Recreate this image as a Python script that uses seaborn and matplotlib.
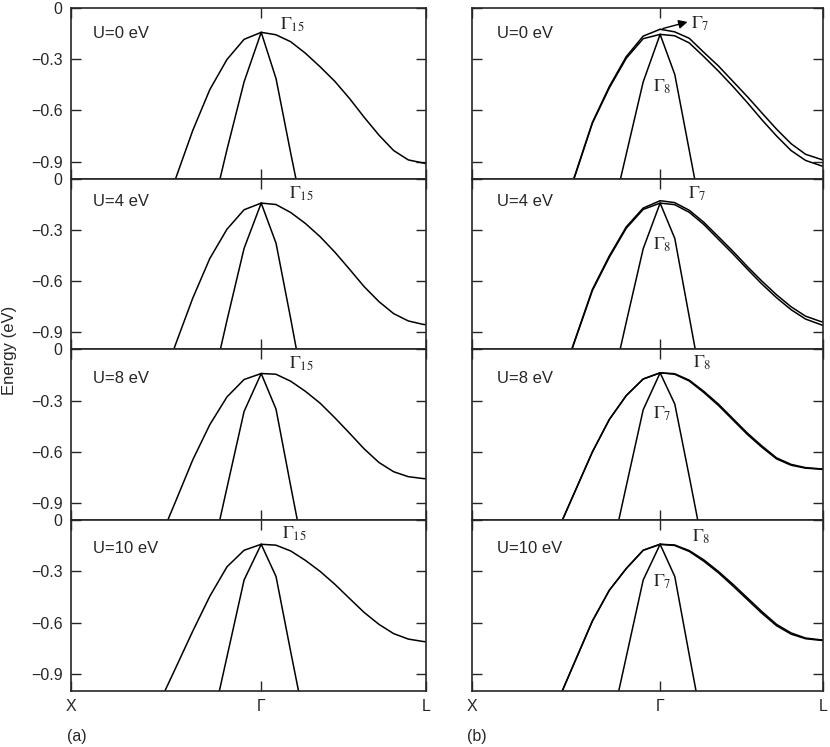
import matplotlib
matplotlib.use('Agg')
import matplotlib.pyplot as plt
from matplotlib.ticker import FuncFormatter
import seaborn as sns

# Valence band tops near Gamma, (a) without and (b) with spin-orbit coupling
U_VALUES = [0, 4, 8, 10]

# k-path: X = -1, Gamma = 0, L = sqrt(3)/2
K_TICKS = [-1.0, 0.0, 0.866]
K_TICK_LABELS = ['X', 'Γ', 'L']

K_X = [-0.54, -0.45, -0.36, -0.27, -0.18, -0.09, 0.0]
K_L = [0.0, 0.077, 0.155, 0.232, 0.31, 0.387, 0.464, 0.541, 0.619, 0.696, 0.773, 0.85, 0.866]
K_LIGHT = [-0.27, -0.18, -0.09, 0.0, 0.078, 0.155, 0.232]

# (a) heavy band, Gamma -> X part and Gamma -> L part, one row per U
A_HEAVY_X = [
    [-1.28, -1.00, -0.718, -0.478, -0.302, -0.184, -0.143],
    [-1.25, -0.97, -0.700, -0.467, -0.296, -0.182, -0.143],
    [-1.13, -0.89, -0.647, -0.440, -0.278, -0.176, -0.141],
    [-1.08, -0.866, -0.650, -0.445, -0.273, -0.176, -0.141],
]
A_HEAVY_L = [
    [-0.143, -0.157, -0.198, -0.265, -0.345, -0.43, -0.53, -0.64, -0.745, -0.835, -0.89, -0.908, -0.911],
    [-0.143, -0.151, -0.198, -0.262, -0.34, -0.43, -0.53, -0.632, -0.72, -0.79, -0.833, -0.853, -0.855],
    [-0.141, -0.145, -0.186, -0.245, -0.315, -0.40, -0.49, -0.582, -0.662, -0.716, -0.745, -0.756, -0.757],
    [-0.141, -0.146, -0.18, -0.235, -0.30, -0.375, -0.458, -0.54, -0.61, -0.664, -0.696, -0.71, -0.712],
]
A_LIGHT = [
    [-1.25, -0.83, -0.433, -0.143, -0.414, -0.85, -1.27],
    [-1.27, -0.83, -0.408, -0.143, -0.378, -0.82, -1.28],
    [-1.26, -0.81, -0.363, -0.141, -0.35, -0.80, -1.24],
    [-1.25, -0.80, -0.35, -0.141, -0.33, -0.77, -1.20],
]

# (b) two nearly degenerate heavy bands (upper / lower) and the light band
B_UPPER_X = [
    [-1.25, -0.97, -0.67, -0.46, -0.285, -0.165, -0.125],
    [-1.22, -0.935, -0.648, -0.452, -0.282, -0.172, -0.129],
    [-1.05, -0.825, -0.60, -0.41, -0.27, -0.173, -0.137],
    [-1.05, -0.82, -0.59, -0.41, -0.283, -0.176, -0.141],
]
B_LOWER_X = [
    [-1.26, -0.975, -0.675, -0.468, -0.295, -0.18, -0.155],
    [-1.225, -0.94, -0.655, -0.46, -0.29, -0.18, -0.143],
    [-1.05, -0.825, -0.60, -0.41, -0.27, -0.173, -0.137],
    [-1.05, -0.82, -0.59, -0.41, -0.283, -0.176, -0.141],
]
B_UPPER_L = [
    [-0.125, -0.14, -0.178, -0.26, -0.34, -0.43, -0.52, -0.615, -0.71, -0.795, -0.857, -0.885, -0.89],
    [-0.129, -0.14, -0.185, -0.255, -0.34, -0.425, -0.515, -0.60, -0.68, -0.75, -0.805, -0.835, -0.84],
    [-0.137, -0.142, -0.18, -0.245, -0.32, -0.405, -0.49, -0.565, -0.635, -0.673, -0.692, -0.699, -0.70],
    [-0.141, -0.145, -0.178, -0.232, -0.30, -0.375, -0.455, -0.535, -0.61, -0.66, -0.69, -0.70, -0.70],
]
B_LOWER_L = [
    [-0.155, -0.163, -0.205, -0.285, -0.37, -0.46, -0.555, -0.655, -0.75, -0.835, -0.893, -0.922, -0.928],
    [-0.143, -0.152, -0.197, -0.268, -0.355, -0.44, -0.53, -0.617, -0.697, -0.767, -0.822, -0.853, -0.86],
    [-0.137, -0.145, -0.185, -0.252, -0.328, -0.413, -0.498, -0.573, -0.641, -0.678, -0.695, -0.701, -0.702],
    [-0.141, -0.148, -0.183, -0.24, -0.308, -0.385, -0.465, -0.545, -0.618, -0.667, -0.694, -0.703, -0.704],
]
B_LIGHT = [
    [-1.28, -0.856, -0.433, -0.155, -0.39, -0.835, -1.28],
    [-1.28, -0.84, -0.41, -0.143, -0.35, -0.81, -1.27],
    [-1.25, -0.80, -0.353, -0.137, -0.32, -0.745, -1.18],
    [-1.25, -0.80, -0.35, -0.141, -0.33, -0.79, -1.24],
]

A_TOP_LABELS = [r'$\Gamma_{15}$'] * 4
B_TOP_LABELS = [r'$\Gamma_{7}$', r'$\Gamma_{7}$', r'$\Gamma_{8}$', r'$\Gamma_{8}$']
B_INNER_LABELS = [r'$\Gamma_{8}$', r'$\Gamma_{8}$', r'$\Gamma_{7}$', r'$\Gamma_{7}$']

# label placement (data coords)
a_top_pos = [(0.10, -0.10), (0.145, -0.09), (0.145, -0.085), (0.11, -0.08)]
b_top_pos = [(0.165, -0.094), (0.15, -0.09), (0.175, -0.08), (0.17, -0.10)]
b_inner_pos = [(-0.04, -0.46), (-0.04, -0.39), (-0.04, -0.376), (-0.04, -0.36)]
u_label_y = [0.852, 0.866, 0.83, 0.836]

sns.set_style('ticks')
plt.rcParams['font.family'] = ['Liberation Sans', 'DejaVu Sans']
plt.rcParams['mathtext.fontset'] = 'stix'


def draw_band(ax, k, e, lw=1.1):
    sns.lineplot(x=k, y=e, ax=ax, color='black', lw=lw, sort=False,
                 estimator=None, legend=False)


def style_axes(ax, show_y, show_x):
    ax.set_xlim(K_TICKS[0], K_TICKS[-1])
    ax.set_ylim(-1.0, 0.0)
    ax.set_xticks(K_TICKS)
    ax.set_xticklabels(K_TICK_LABELS)
    ax.set_yticks([0.0, -0.3, -0.6, -0.9])
    ax.yaxis.set_major_formatter(FuncFormatter(
        lambda v, _: '0' if abs(v) < 1e-9 else f'{v:.1f}'.replace('-', '\u2212')))
    ax.tick_params(direction='in', length=7, width=1, top=True, right=True,
                   labelsize=11.5, pad=6, labelleft=show_y, labelbottom=show_x)
    for s in ax.spines.values():
        s.set_linewidth(1.2)
    ax.set_xlabel('')
    ax.set_ylabel('')


fig = plt.figure(figsize=(8.3, 7.47), dpi=100)
col_left = [0.0855, 0.5687]
col_width = [0.4277, 0.4229]
panel_h = 0.2286
bottom0 = 0.075

for i, u in enumerate(U_VALUES):
    bottom = bottom0 + (3 - i) * panel_h
    last = i == 3

    # (a) no spin-orbit
    ax = fig.add_axes([col_left[0], bottom, col_width[0], panel_h])
    draw_band(ax, K_X, A_HEAVY_X[i])
    draw_band(ax, K_L, A_HEAVY_L[i])
    draw_band(ax, K_LIGHT, A_LIGHT[i])
    style_axes(ax, True, last)
    ax.text(0.062, u_label_y[i], f'U={u} eV', transform=ax.transAxes,
            fontsize=12, va='center', ha='left')
    ax.text(*a_top_pos[i], A_TOP_LABELS[i], fontsize=13, va='center', ha='left')

    # (b) with spin-orbit
    ax = fig.add_axes([col_left[1], bottom, col_width[1], panel_h])
    draw_band(ax, K_X, B_UPPER_X[i])
    draw_band(ax, K_X, B_LOWER_X[i])
    draw_band(ax, K_L, B_UPPER_L[i])
    draw_band(ax, K_L, B_LOWER_L[i])
    draw_band(ax, K_LIGHT, B_LIGHT[i])
    style_axes(ax, False, last)
    ax.text(0.07, u_label_y[i], f'U={u} eV', transform=ax.transAxes,
            fontsize=12, va='center', ha='left')
    ax.text(*b_top_pos[i], B_TOP_LABELS[i], fontsize=13, va='center', ha='left')
    ax.text(*b_inner_pos[i], B_INNER_LABELS[i], fontsize=13, va='center', ha='left')
    if i == 0:
        ax.annotate('', xy=(0.16, -0.078), xytext=(0.0, B_UPPER_L[0][0]),
                    arrowprops=dict(arrowstyle='-|>', color='black', lw=1.0,
                                    mutation_scale=13))

fig.text(0.012, 0.531, 'Energy (eV)', rotation=90, va='center', ha='center',
         fontsize=12)
fig.text(0.093, 0.004, '(a)', fontsize=11.5, va='bottom', ha='center')
fig.text(0.575, 0.004, '(b)', fontsize=11.5, va='bottom', ha='center')

fig.savefig('out.png', dpi=100)
